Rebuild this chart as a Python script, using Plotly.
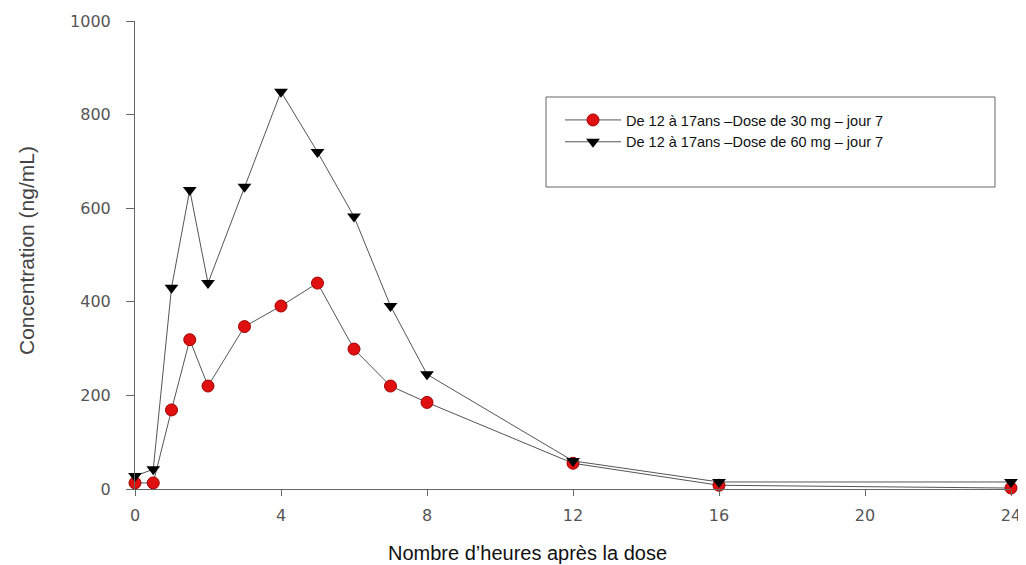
import plotly.graph_objects as go

hours = [0, 0.5, 1, 1.5, 2, 3, 4, 5, 6, 7, 8, 12, 16, 24]
dose_30 = [13, 13, 169, 319, 220, 347, 391, 440, 299, 220, 185, 55, 8, 2]
dose_60 = [28, 42, 430, 639, 440, 646, 849, 720, 582, 391, 245, 60, 15, 15]
x_ticks = [0, 4, 8, 12, 16, 20, 24]
y_ticks = [0, 200, 400, 600, 800, 1000]
name_30 = "De 12 à 17ans –Dose de 30 mg – jour 7"
name_60 = "De 12 à 17ans –Dose de 60 mg – jour 7"

# page body has an 8px margin, so the figure is drawn 8px in from the top-left
OFF = 8
W, H = 1026 - OFF, 565 - OFF
L, R, T, B = 135 - OFF, 15, 21 - OFF, 76
pw, ph = W - L - R, H - T - B


def px_x(p):
    return (p - OFF - L) / pw


def px_y(p):
    return (H + OFF - B - p) / ph


fig = go.Figure()
fig.add_trace(go.Scatter(
    x=hours, y=dose_30, mode="lines+markers", name=name_30,
    line=dict(color="#555555", width=1),
    marker=dict(symbol="circle", size=12, color="#e01010",
                line=dict(color="#a00000", width=1)),
    cliponaxis=False,
))
fig.add_trace(go.Scatter(
    x=hours, y=dose_60, mode="lines+markers", name=name_60,
    line=dict(color="#555555", width=1),
    marker=dict(symbol="triangle-down", size=12, color="#000000"),
    cliponaxis=False,
))

# legend frame
fig.add_shape(type="rect", xref="paper", yref="paper",
              x0=px_x(546), x1=px_x(995), y0=px_y(187), y1=px_y(97),
              line=dict(color="#666666", width=1), fillcolor="rgba(0,0,0,0)")

fig.add_annotation(text="Nombre d’heures après la dose", xref="paper", yref="paper",
                   x=px_x(527), y=px_y(553), showarrow=False,
                   font=dict(family="Liberation Sans, Arial", size=20, color="#111111"),
                   xanchor="center", yanchor="middle")
fig.add_annotation(text="Concentration (ng/mL)", xref="paper", yref="paper",
                   x=px_x(26), y=px_y(251), showarrow=False, textangle=-90,
                   font=dict(family="Liberation Sans, Arial", size=21, color="#444444"),
                   xanchor="center", yanchor="middle")

fig.update_layout(
    width=W, height=H,
    margin=dict(l=L, r=R, t=T, b=B, autoexpand=False),
    paper_bgcolor="white", plot_bgcolor="white",
    font=dict(family="Liberation Sans, Arial", color="#333333"),
    showlegend=True,
    legend=dict(x=px_x(560), y=px_y(104), xanchor="left", yanchor="top",
                bgcolor="rgba(0,0,0,0)", borderwidth=0,
                font=dict(family="Liberation Sans, Arial", size=14.5, color="#111111"),
                tracegroupgap=0, itemwidth=56),
    xaxis=dict(range=[0, 24], tickvals=x_ticks, ticktext=[str(v) for v in x_ticks],
               showgrid=False, zeroline=False, showline=True, linecolor="#666666",
               linewidth=1, ticks="outside", ticklen=6, tickcolor="#666666",
               tickfont=dict(family="DejaVu Sans", size=16, color="#555555"),
               ticklabelstandoff=6, automargin=False),
    yaxis=dict(range=[0, 1000], tickvals=y_ticks, ticktext=[str(v) for v in y_ticks],
               showgrid=False, zeroline=False, showline=True, linecolor="#666666",
               linewidth=1, ticks="outside", ticklen=8, tickcolor="#666666",
               tickfont=dict(family="DejaVu Sans", size=16, color="#555555"),
               ticklabelstandoff=12, automargin=False),
)

fig.write_html("out.html")
